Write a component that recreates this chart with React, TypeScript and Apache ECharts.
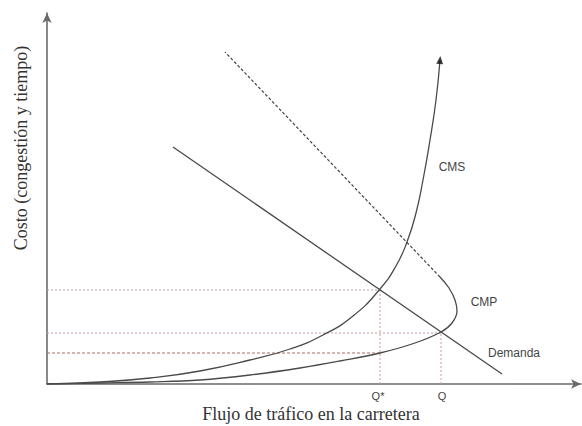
import React, { useEffect, useRef } from "react";
import * as echarts from "echarts";

// Coordinates in chart units (origin at axes corner)
const cmsCurve: [number, number][] = [
  [0, 0], [53, 2], [103, 6], [153, 13], [203, 24], [243, 35], [276, 49], [306, 68],
  [333, 95], [349, 118], [360, 142], [369, 171], [376, 204], [383, 244], [389, 284], [393, 324],
];
const cmpCurve: [number, number][] = [
  [0, 0], [53, 1], [103, 2], [153, 4], [203, 9], [253, 16], [293, 23],
  [333, 31], [368, 41], [394, 52], [405, 61], [410, 73], [408, 84], [402, 96], [393, 107],
];
const cmpDashed: [number, number][] = [[393, 107], [178, 332]];
const demanda: [number, number][] = [[126, 237], [455, 10]];
const qStar: [number, number] = [333, 94];
const qEq: [number, number] = [394, 51];
const lowCost: [number, number] = [333, 31];
const tickLabels = ["Q*", "Q"];
const curveLabels = ["CMS", "CMP", "Demanda"];

export default function App() {
  const ref = useRef<HTMLDivElement>(null);
  useEffect(() => {
    if (!ref.current) return;
    const chart = echarts.init(ref.current, null, { renderer: "svg" });
    const axisLine = {
      show: true,
      symbol: ["none", "arrow"],
      symbolSize: [7, 10],
      lineStyle: { color: "#6a6a6a", width: 1.6 },
    };
    const curveStyle = { color: "#4a4a4a", width: 1.3 };
    const redLight = { color: "#c89a9a", width: 1, type: [2, 2] as any };
    const redDark = { color: "#b06a6a", width: 1, type: [3, 2] as any };
    const lineSeries = (data: [number, number][], style: any, smooth: any = false) => ({
      type: "line",
      data,
      smooth,
      symbol: "none",
      lineStyle: style,
      silent: true,
      z: 3,
    });
    const sans = "12px 'Liberation Sans', Arial, sans-serif";
    const serif = "'Liberation Serif', 'Times New Roman', serif";
    chart.setOption({
      animation: false,
      grid: { left: 47, right: 1, top: 13, bottom: 42 },
      xAxis: {
        type: "value", min: 0, max: 534,
        axisLine, axisTick: { show: false }, axisLabel: { show: false }, splitLine: { show: false },
      },
      yAxis: {
        type: "value", min: 0, max: 371,
        axisLine, axisTick: { show: false }, axisLabel: { show: false }, splitLine: { show: false },
      },
      series: [
        lineSeries([[0, qStar[1]], qStar], redLight),
        lineSeries([[0, qEq[1]], qEq], redLight),
        lineSeries([[0, lowCost[1]], lowCost], redDark),
        lineSeries([[qStar[0], 0], qStar], redLight),
        lineSeries([[qEq[0], 0], qEq], redLight),
        lineSeries(cmsCurve, curveStyle, 0.5),
        lineSeries(cmpCurve, curveStyle, 0.4),
        lineSeries(cmpDashed, { color: "#444", width: 1.2, type: [3, 2] }),
        lineSeries(demanda, curveStyle),
        {
          type: "scatter",
          data: [cmsCurve[cmsCurve.length - 1]],
          symbol: "triangle",
          symbolSize: [7, 8],
          symbolRotate: -5,
          itemStyle: { color: "#111" },
          z: 4,
        },
      ],
      graphic: [
        { type: "text", x: 378, y: 396, style: { text: tickLabels[0], font: "11px 'Liberation Sans', Arial, sans-serif", fill: "#444", align: "center", verticalAlign: "middle" } },
        { type: "text", x: 442, y: 396, style: { text: tickLabels[1], font: "11px 'Liberation Sans', Arial, sans-serif", fill: "#444", align: "center", verticalAlign: "middle" } },
        { type: "text", x: 452, y: 167, style: { text: curveLabels[0], font: sans, fill: "#444", align: "center", verticalAlign: "middle" } },
        { type: "text", x: 484, y: 302, style: { text: curveLabels[1], font: sans, fill: "#444", align: "center", verticalAlign: "middle" } },
        { type: "text", x: 514, y: 353, style: { text: curveLabels[2], font: sans, fill: "#444", align: "center", verticalAlign: "middle" } },
        { type: "text", x: 311, y: 414, style: { text: "Flujo de tráfico en la carretera", font: "18px " + serif, fill: "#333", align: "center", verticalAlign: "middle" } },
        { type: "text", x: 21, y: 148, rotation: Math.PI / 2, style: { text: "Costo (congestión y tiempo)", font: "18px " + serif, fill: "#333", align: "center", verticalAlign: "middle" } },
      ],
    });
    return () => chart.dispose();
  }, []);
  return <div ref={ref} style={{ position: "fixed", left: 0, top: 0, width: 582, height: 426, background: "#fff" }} />;
}
